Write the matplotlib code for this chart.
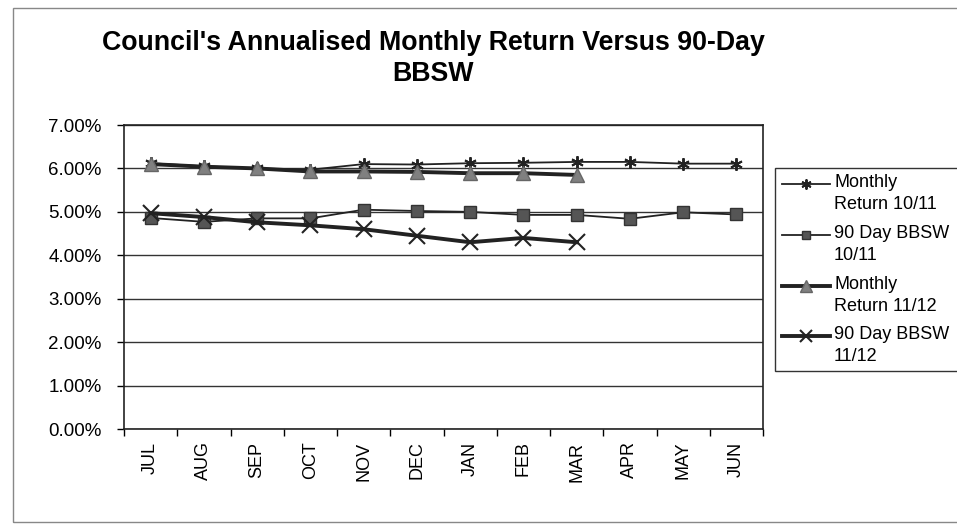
import matplotlib
matplotlib.use("Agg")
import matplotlib.pyplot as plt
from matplotlib.patches import Rectangle
from matplotlib.lines import Line2D
from matplotlib.ticker import FuncFormatter, FixedLocator

plt.rcParams['font.family'] = ['Liberation Sans', 'DejaVu Sans']

months = ["JUL", "AUG", "SEP", "OCT", "NOV", "DEC", "JAN", "FEB", "MAR", "APR", "MAY", "JUN"]
monthly_return_1011 = [6.12, 6.05, 6.00, 5.97, 6.10, 6.09, 6.12, 6.13, 6.15, 6.15, 6.11, 6.11]
bbsw_1011 = [4.86, 4.77, 4.85, 4.85, 5.05, 5.02, 5.00, 4.93, 4.93, 4.84, 4.99, 4.94]
monthly_return_1112 = [6.10, 6.04, 6.00, 5.93, 5.93, 5.92, 5.89, 5.89, 5.85]
bbsw_1112 = [4.97, 4.88, 4.76, 4.69, 4.60, 4.45, 4.30, 4.40, 4.30]
series_labels = ["Monthly\nReturn 10/11", "90 Day BBSW\n10/11", "Monthly\nReturn 11/12", "90 Day BBSW\n11/12"]
yticks = [0, 1, 2, 3, 4, 5, 6, 7]

W, H = 957, 524
fig = plt.figure(figsize=(W / 100, H / 100), dpi=100)

def fx(px):
    return px / W

def fy(py):
    return 1 - py / H

# outer chart frame
fig.patches.append(Rectangle((fx(13), fy(522)), fx(960 - 13), (522 - 8) / H, transform=fig.transFigure,
                             fill=False, edgecolor='#888888', linewidth=1.0))

ax = fig.add_axes([fx(124), fy(429), fx(763 - 124), (429 - 125) / H])
x_all = list(range(len(months)))

styles = [
    dict(color='#222222', linewidth=1.3, marker=(6, 2, 0), markersize=9, markeredgewidth=1.4,
         markeredgecolor='#222222'),
    dict(color='#222222', linewidth=1.3, marker='s', markersize=8, markerfacecolor='#555555',
         markeredgecolor='#333333'),
    dict(color='#222222', linewidth=2.8, marker='^', markersize=10, markerfacecolor='#808080',
         markeredgecolor='#666666'),
    dict(color='#222222', linewidth=2.8, marker='x', markersize=11, markeredgewidth=1.5,
         markeredgecolor='#222222'),
]

ax.plot(x_all, monthly_return_1011, zorder=3, **styles[0])
ax.plot(x_all, bbsw_1011, zorder=3, **styles[1])
ax.plot(x_all[:len(monthly_return_1112)], monthly_return_1112, zorder=4, **styles[2])
ax.plot(x_all[:len(bbsw_1112)], bbsw_1112, zorder=4, **styles[3])

ax.set_xlim(-0.5, len(months) - 0.5)
ax.set_ylim(0, 7)
ax.set_yticks(yticks)
ax.yaxis.set_major_formatter(FuncFormatter(lambda v, p: f"{v:.2f}%"))
ax.yaxis.grid(True, color='#333333', linewidth=1.0)
ax.set_axisbelow(True)

ax.set_xticks(x_all)
ax.set_xticklabels(months, rotation=90, fontsize=13)
ax.tick_params(axis='x', which='major', length=0, pad=9)
ax.xaxis.set_minor_locator(FixedLocator([i - 0.5 for i in range(len(months) + 1)]))
ax.tick_params(axis='x', which='minor', length=5, direction='out', width=1)
ax.tick_params(axis='y', length=5, direction='out', labelsize=13.5, width=1, pad=11)

for s in ax.spines.values():
    s.set_color('#222222')
    s.set_linewidth(1.2)

fig.text(fx(433), fy(43), "Council's Annualised Monthly Return Versus 90-Day",
         ha='center', va='center', fontsize=19.3, fontweight='bold')
fig.text(fx(433), fy(74), "BBSW", ha='center', va='center', fontsize=19.3, fontweight='bold')

# legend (Excel style: handle aligned with first text line)
fig.patches.append(Rectangle((fx(775), fy(371)), fx(990 - 775), (371 - 168) / H, transform=fig.transFigure,
                             fill=True, facecolor='white', edgecolor='#333333', linewidth=1.0, zorder=5))
entry_y = [184, 235, 286, 336]
for lab, st, ey in zip(series_labels, styles, entry_y):
    mk = {k: v for k, v in st.items() if k != 'linewidth'}
    mk['markersize'] = st['markersize'] * 0.8
    fig.add_artist(Line2D([fx(782), fx(830)], [fy(ey), fy(ey)], transform=fig.transFigure,
                          color=st['color'], linewidth=st['linewidth'], zorder=6))
    fig.add_artist(Line2D([fx(806)], [fy(ey)], transform=fig.transFigure, linestyle='none', zorder=7, **mk))
    fig.text(fx(834), fy(ey - 10), lab, ha='left', va='top', fontsize=13, linespacing=1.35, zorder=7)

fig.savefig("out.png", dpi=100, facecolor='white')
